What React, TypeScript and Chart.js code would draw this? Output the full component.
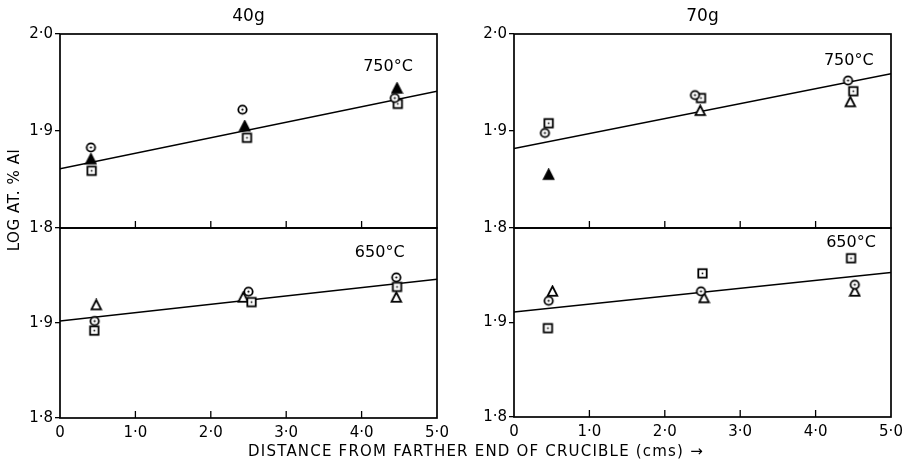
import React, { useEffect, useRef } from "react";
import { Chart, registerables } from "chart.js";

Chart.register(...registerables);

const W = 909;
const H = 465;
const FONT = "DejaVu Sans";

// ---- tick values / labels ----
const xTickValues = [0, 1, 2, 3, 4, 5];
const xTickLabels = ["0", "1·0", "2·0", "3·0", "4·0", "5·0"];
const yTickValuesTop = [1.8, 1.9, 2.0];
const yTickLabelsTop = ["1·8", "1·9", "2·0"];
const yTickValuesBottom = [1.8, 1.9];
const yTickLabelsBottom = ["1·8", "1·9"];

const columnTitles = ["40g", "70g"];
const tempLabels = ["750°C", "650°C"];
const xTitle = "DISTANCE FROM FARTHER END OF CRUCIBLE (cms) →";
const yTitle = "LOG AT. % Al";

// ---- data: [distance (cms), log at.% Al] ----
const fitX = [0, 5];

// 40g, 750°C
const g40t750Circle = [[0.41, 1.883], [2.42, 1.922], [4.44, 1.934]];
const g40t750Triangle = [[0.41, 1.871], [2.45, 1.905], [4.47, 1.944]];
const g40t750Square = [[0.42, 1.859], [2.48, 1.893], [4.48, 1.928]];
const g40t750Fit = [1.861, 1.941];

// 40g, 650°C
const g40t650Circle = [[0.46, 1.902], [2.5, 1.933], [4.46, 1.948]];
const g40t650Triangle = [[0.48, 1.919], [2.43, 1.927], [4.46, 1.927]];
const g40t650Square = [[0.455, 1.892], [2.54, 1.922], [4.47, 1.938]];
const g40t650Fit = [1.902, 1.946];

// 70g, 750°C
const g70t750Circle = [[0.41, 1.898], [2.4, 1.937], [4.43, 1.952]];
const g70t750Triangle = [[0.46, 1.855], [2.47, 1.921], [4.46, 1.93]];
const g70t750Square = [[0.46, 1.908], [2.48, 1.934], [4.5, 1.941]];
const g70t750Fit = [1.882, 1.959];

// 70g, 650°C
const g70t650Circle = [[0.46, 1.923], [2.48, 1.933], [4.52, 1.94]];
const g70t650Triangle = [[0.51, 1.933], [2.52, 1.926], [4.52, 1.933]];
const g70t650Square = [[0.45, 1.894], [2.5, 1.952], [4.47, 1.968]];
const g70t650Fit = [1.911, 1.953];

// which triangles are drawn solid
const g40t750TriFilled = [true, true, true];
const g40t650TriFilled = [false, false, false];
const g70t750TriFilled = [true, false, false];
const g70t650TriFilled = [false, false, false];

type Panel = {
  col: number;
  row: number;
  circle: number[][];
  triangle: number[][];
  square: number[][];
  fit: number[];
  triFilled: boolean[];
  area: { left: number; right: number; top: number; bottom: number };
  labelAt: [number, number];
};

const panels: Panel[] = [
  { col: 0, row: 0, circle: g40t750Circle, triangle: g40t750Triangle, square: g40t750Square, fit: g40t750Fit, triFilled: g40t750TriFilled,
    area: { left: 60, right: 437, top: 34, bottom: 228 }, labelAt: [4.35, 1.966] },
  { col: 0, row: 1, circle: g40t650Circle, triangle: g40t650Triangle, square: g40t650Square, fit: g40t650Fit, triFilled: g40t650TriFilled,
    area: { left: 60, right: 437, top: 228, bottom: 418 }, labelAt: [4.24, 1.974] },
  { col: 1, row: 0, circle: g70t750Circle, triangle: g70t750Triangle, square: g70t750Square, fit: g70t750Fit, triFilled: g70t750TriFilled,
    area: { left: 514, right: 891, top: 34, bottom: 228 }, labelAt: [4.44, 1.972] },
  { col: 1, row: 1, circle: g70t650Circle, triangle: g70t650Triangle, square: g70t650Square, fit: g70t650Fit, triFilled: g70t650TriFilled,
    area: { left: 514, right: 891, top: 228, bottom: 417 }, labelAt: [4.47, 1.984] },
];

function makeMarker(kind: string, filled = false): HTMLCanvasElement {
  const c = document.createElement("canvas");
  c.width = 13;
  c.height = 13;
  const ctx = c.getContext("2d")!;
  ctx.strokeStyle = "#000";
  ctx.fillStyle = "#000";
  ctx.lineWidth = 1.8;
  if (kind === "circle") {
    ctx.beginPath();
    ctx.arc(6.5, 6.5, 4.2, 0, Math.PI * 2);
    ctx.fillStyle = "#fff";
    ctx.fill();
    ctx.stroke();
    ctx.fillStyle = "#000";
    ctx.beginPath();
    ctx.arc(6.5, 6.5, 1.1, 0, Math.PI * 2);
    ctx.fill();
  } else if (kind === "square") {
    ctx.fillStyle = "#fff";
    ctx.fillRect(2.3, 2.3, 8.4, 8.4);
    ctx.strokeRect(2.3, 2.3, 8.4, 8.4);
    ctx.fillStyle = "#000";
    ctx.fillRect(5.7, 5.7, 1.6, 1.6);
  } else {
    ctx.beginPath();
    ctx.moveTo(6.5, 1.5);
    ctx.lineTo(11.3, 10.8);
    ctx.lineTo(1.7, 10.8);
    ctx.closePath();
    ctx.fillStyle = filled ? "#000" : "#fff";
    ctx.fill();
    ctx.stroke();
  }
  return c;
}

const Y_W = 40;
const X_H = 22;

function buildChart(canvas: HTMLCanvasElement, p: Panel) {
  const circle = makeMarker("circle");
  const square = makeMarker("square");
  const triOpen = makeMarker("triangle", false);
  const triFull = makeMarker("triangle", true);
  const isBottom = p.row === 1;
  const xH = isBottom ? X_H : 0;
  const yVals = isBottom ? yTickValuesBottom : yTickValuesTop;
  const yLabs = isBottom ? yTickLabelsBottom : yTickLabelsTop;

  const toPts = (arr: number[][]) => arr.map(([x, y]) => ({ x, y }));

  const panelPlugin = {
    id: "panelDeco",
    beforeDatasetsDraw(chart: any) {
      const { ctx, chartArea } = chart;
      const xs = chart.scales.x;
      ctx.save();
      ctx.strokeStyle = "#000";
      ctx.lineWidth = 1.7;
      ctx.strokeRect(chartArea.left, chartArea.top, chartArea.right - chartArea.left, chartArea.bottom - chartArea.top);
      ctx.lineWidth = 1.3;
      xTickValues.slice(1, -1).forEach((v) => {
        const px = xs.getPixelForValue(v);
        ctx.beginPath();
        ctx.moveTo(px, chartArea.bottom);
        ctx.lineTo(px, chartArea.bottom - 7);
        ctx.stroke();
      });
      ctx.restore();
    },
    afterDraw(chart: any) {
      const { ctx, chartArea } = chart;
      const xs = chart.scales.x;
      const ys = chart.scales.y;
      ctx.save();
      ctx.fillStyle = "#000";
      ctx.textAlign = "center";
      ctx.textBaseline = "middle";
      ctx.font = `16px '${FONT}'`;
      ctx.fillText(tempLabels[p.row], xs.getPixelForValue(p.labelAt[0]), ys.getPixelForValue(p.labelAt[1]));
      if (p.row === 0) {
        ctx.font = `17px '${FONT}'`;
        ctx.fillText(columnTitles[p.col], (chartArea.left + chartArea.right) / 2, chartArea.top - 17);
      }
      if (p.row === 1 && p.col === 0) {
        ctx.font = `15px '${FONT}'`;
        (ctx as any).letterSpacing = "1.2px";
        ctx.fillText(xTitle, 476, 452);
        ctx.translate(15, 200);
        ctx.rotate(-Math.PI / 2);
        (ctx as any).letterSpacing = "0.6px";
        ctx.fillText(yTitle, 0, 0);
      }
      ctx.restore();
    },
  };

  return new Chart(canvas, {
    type: "scatter",
    data: {
      datasets: [
        { data: toPts(p.circle), pointStyle: circle as any, pointRadius: 5 },
        { data: toPts(p.square), pointStyle: square as any, pointRadius: 5 },
        { data: toPts(p.triangle), pointStyle: p.triFilled.map((f) => (f ? triFull : triOpen)) as any, pointRadius: 5 },
        {
          data: fitX.map((x, i) => ({ x, y: p.fit[i] })),
          showLine: true,
          borderColor: "#000",
          borderWidth: 1.5,
          pointRadius: 0,
        },
      ],
    },
    options: {
      responsive: false,
      animation: false,
      events: [],
      layout: {
        padding: {
          left: p.area.left - Y_W,
          right: W - p.area.right,
          top: p.area.top,
          bottom: H - p.area.bottom - xH,
        },
      },
      plugins: { legend: { display: false }, tooltip: { enabled: false }, title: { display: false } },
      scales: {
        x: {
          type: "linear",
          min: 0,
          max: 5,
          afterBuildTicks: (s: any) => {
            s.ticks = xTickValues.map((v) => ({ value: v }));
          },
          afterFit: (s: any) => {
            s.height = xH;
          },
          grid: { display: false, drawTicks: false },
          border: { display: false },
          ticks: {
            display: isBottom,
            autoSkip: false,
            maxRotation: 0,
            padding: 6,
            color: "#000",
            font: { family: FONT, size: 15 },
            callback: (_v: any, i: number) => xTickLabels[i],
          },
        },
        y: {
          type: "linear",
          min: 1.8,
          max: 2.0,
          afterBuildTicks: (s: any) => {
            s.ticks = yVals.map((v) => ({ value: v }));
          },
          afterFit: (s: any) => {
            s.width = Y_W;
          },
          grid: { display: true, drawOnChartArea: false, drawTicks: true, tickLength: 5, color: "#000", lineWidth: 1.3 },
          border: { display: false },
          ticks: {
            padding: 2,
            color: "#000",
            font: { family: FONT, size: 15 },
            callback: (_v: any, i: number) => yLabs[i],
          },
        },
      },
    } as any,
    plugins: [panelPlugin],
  });
}

export default function App() {
  const refs = [useRef<HTMLCanvasElement>(null), useRef<HTMLCanvasElement>(null), useRef<HTMLCanvasElement>(null), useRef<HTMLCanvasElement>(null)];

  useEffect(() => {
    const charts = panels.map((p, i) => buildChart(refs[i].current!, p));
    return () => charts.forEach((c) => c.destroy());
  }, []);

  return (
    <div style={{ position: "absolute", left: 0, top: 0, width: W, height: H, background: "#fff" }}>
      {panels.map((_, i) => (
        <canvas
          key={i}
          ref={refs[i]}
          width={W}
          height={H}
          style={{ position: "absolute", left: 0, top: 0, width: W, height: H }}
        />
      ))}
    </div>
  );
}
